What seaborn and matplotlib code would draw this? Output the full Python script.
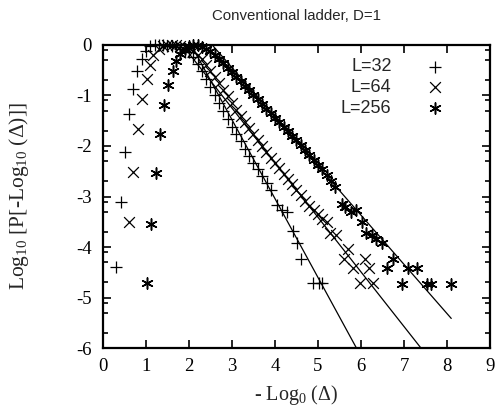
import matplotlib
matplotlib.use('Agg')
import matplotlib.pyplot as plt
import seaborn as sns
import pandas as pd
from matplotlib.ticker import FixedLocator

sns.set_style('ticks')
plt.rcParams['font.family'] = ['Liberation Serif', 'DejaVu Serif']
plt.rcParams['mathtext.fontset'] = 'custom'
plt.rcParams['mathtext.rm'] = 'Liberation Serif'
plt.rcParams['mathtext.it'] = 'Liberation Serif:italic'
plt.rcParams['axes.unicode_minus'] = False

# L=32 (+)
x32 = [0.30, 0.42, 0.51, 0.60, 0.70, 0.80, 0.90, 1.00, 1.10, 1.20, 1.30, 1.40, 1.50,
       1.60, 1.70, 1.80, 1.90, 2.00, 2.10, 2.20, 2.30, 2.40, 2.50, 2.60, 2.70, 2.80,
       2.90, 3.00, 3.10, 3.20, 3.30, 3.40, 3.50, 3.60, 3.70, 3.81, 3.92, 4.04, 4.16,
       4.27, 4.41, 4.52, 4.60, 4.89, 5.02, 5.10]
y32 = [-4.40, -3.11, -2.12, -1.37, -0.88, -0.51, -0.28, -0.12, -0.03, 0.00, -0.01, 0.00, -0.02,
       -0.03, -0.05, -0.09, -0.14, -0.15, -0.25, -0.38, -0.52, -0.68, -0.84, -0.99, -1.15, -1.31,
       -1.46, -1.62, -1.76, -1.91, -2.06, -2.20, -2.33, -2.45, -2.60, -2.74, -2.87, -3.17, -3.27,
       -3.31, -3.68, -3.91, -4.24, -4.72, -4.72, -4.72]

# L=64 (x)
x64 = [0.61, 0.70, 0.82, 0.90, 1.02, 1.09, 1.17, 1.30, 1.40, 1.50, 1.60, 1.70, 1.80,
       1.90, 2.00, 2.10, 2.20, 2.30, 2.40, 2.50, 2.60, 2.70, 2.80, 2.90, 3.00, 3.10,
       3.20, 3.30, 3.40, 3.50, 3.60, 3.70, 3.80, 3.90, 4.00, 4.10, 4.20, 4.30, 4.40,
       4.50, 4.60, 4.70, 4.80, 4.90, 5.00, 5.10, 5.20, 5.28, 5.43, 5.60, 5.71, 5.81,
       5.98, 6.09, 6.19, 6.29]
y64 = [-3.50, -2.51, -1.66, -1.08, -0.68, -0.40, -0.20, -0.08, -0.02, 0.00, 0.00, -0.01, -0.02,
       -0.04, -0.06, -0.12, -0.20, -0.29, -0.40, -0.51, -0.63, -0.76, -0.89, -1.02, -1.16, -1.29,
       -1.41, -1.53, -1.65, -1.77, -1.88, -2.00, -2.11, -2.23, -2.34, -2.44, -2.55, -2.66, -2.76,
       -2.87, -2.97, -3.08, -3.19, -3.27, -3.35, -3.45, -3.50, -3.73, -3.76, -4.24, -4.03, -4.42,
       -4.72, -4.24, -4.42, -4.72]

# L=256 (*)
x256 = [1.03, 1.11, 1.23, 1.33, 1.43, 1.52, 1.62, 1.71, 1.80, 1.90, 2.00, 2.10, 2.20,
        2.30, 2.40, 2.50, 2.60, 2.70, 2.80, 2.90, 3.00, 3.10, 3.20, 3.30, 3.40, 3.50,
        3.60, 3.70, 3.80, 3.90, 4.00, 4.10, 4.20, 4.30, 4.40, 4.50, 4.60, 4.70, 4.80,
        4.90, 5.00, 5.10, 5.20, 5.30, 5.40, 5.57, 5.64, 5.76, 5.88, 6.02, 6.12, 6.25,
        6.36, 6.48, 6.60, 6.75, 6.95, 7.10, 7.31, 7.53, 7.64, 8.09]
y256 = [-4.71, -3.55, -2.54, -1.76, -1.19, -0.79, -0.51, -0.32, -0.18, -0.08, -0.02, 0.00, -0.01,
        -0.04, -0.08, -0.13, -0.20, -0.28, -0.36, -0.45, -0.54, -0.63, -0.72, -0.81, -0.90, -0.99,
        -1.08, -1.17, -1.26, -1.35, -1.44, -1.53, -1.62, -1.71, -1.80, -1.89, -1.98, -2.08, -2.17,
        -2.27, -2.37, -2.46, -2.58, -2.70, -2.81, -3.14, -3.20, -3.31, -3.27, -3.50, -3.72, -3.76,
        -3.85, -3.91, -4.42, -4.24, -4.73, -4.42, -4.42, -4.73, -4.73, -4.73]

# straight-line fits (one per L)
fit_slope = [-1.56, -1.08, -0.973]
fit_icpt = [3.20, 1.99, 2.47]
fit_x = [2.0, 8.1]

fig, ax = plt.subplots(figsize=(5.02, 4.15), dpi=100)
fig.subplots_adjust(left=0.205, right=0.976, top=0.892, bottom=0.161)

for a, b in zip(fit_slope, fit_icpt):
    line = pd.DataFrame({'x': fit_x, 'y': [b + a * v for v in fit_x]})
    sns.lineplot(data=line, x='x', y='y', color='black', linewidth=0.9, ax=ax)

sns.scatterplot(x=x32, y=y32, marker='+', s=75, color='black', linewidth=0.9,
                label='L=32', ax=ax, clip_on=False, zorder=3)
sns.scatterplot(x=x64, y=y64, marker='x', s=60, color='black', linewidth=0.9,
                label='L=64', ax=ax, clip_on=False, zorder=3)
sns.scatterplot(x=x256, y=y256, marker=(6, 2, 0), s=65, color='black', linewidth=1.1,
                label='L=256', ax=ax, clip_on=False, zorder=3)

ax.set_xlim(0, 9)
ax.set_ylim(-6, 0)
ax.set_xticks(range(0, 10))
ax.set_yticks([0, -1, -2, -3, -4, -5, -6])
ax.yaxis.set_minor_locator(FixedLocator([-n - d for n in range(6) for d in (0.1, 0.3, 0.7)]))
ax.tick_params(which='both', direction='in', top=True, right=True, width=1.2, colors='black')
ax.tick_params(which='major', length=6, labelsize=13.5)
ax.tick_params(axis='y', which='major', pad=8)
ax.tick_params(axis='x', which='major', pad=7)
ax.tick_params(which='minor', length=3.5)
for sp in ax.spines.values():
    sp.set_visible(True)
    sp.set_linewidth(1.6)
    sp.set_color('black')

ax.set_xlabel('- Log$_0$ (Δ)', fontsize=14.5, va='top')
ax.xaxis.set_label_coords(0.5, -0.116)
ax.set_ylabel('Log$_{10}$ [P[-Log$_{10}$ (Δ)]]', fontsize=15.5)
ax.yaxis.set_label_coords(-0.186, 0.5)
ax.set_title('Conventional ladder, D=1', family='Liberation Sans', fontsize=10.8, pad=18)

ax.legend(loc='upper right', bbox_to_anchor=(0.881, 0.955), markerfirst=False, frameon=False,
          prop={'family': 'Liberation Sans', 'size': 13}, handlelength=1.0, handletextpad=1.9,
          labelspacing=0.2, borderpad=0, borderaxespad=0, scatterpoints=1)

fig.savefig('out.png', dpi=100)
